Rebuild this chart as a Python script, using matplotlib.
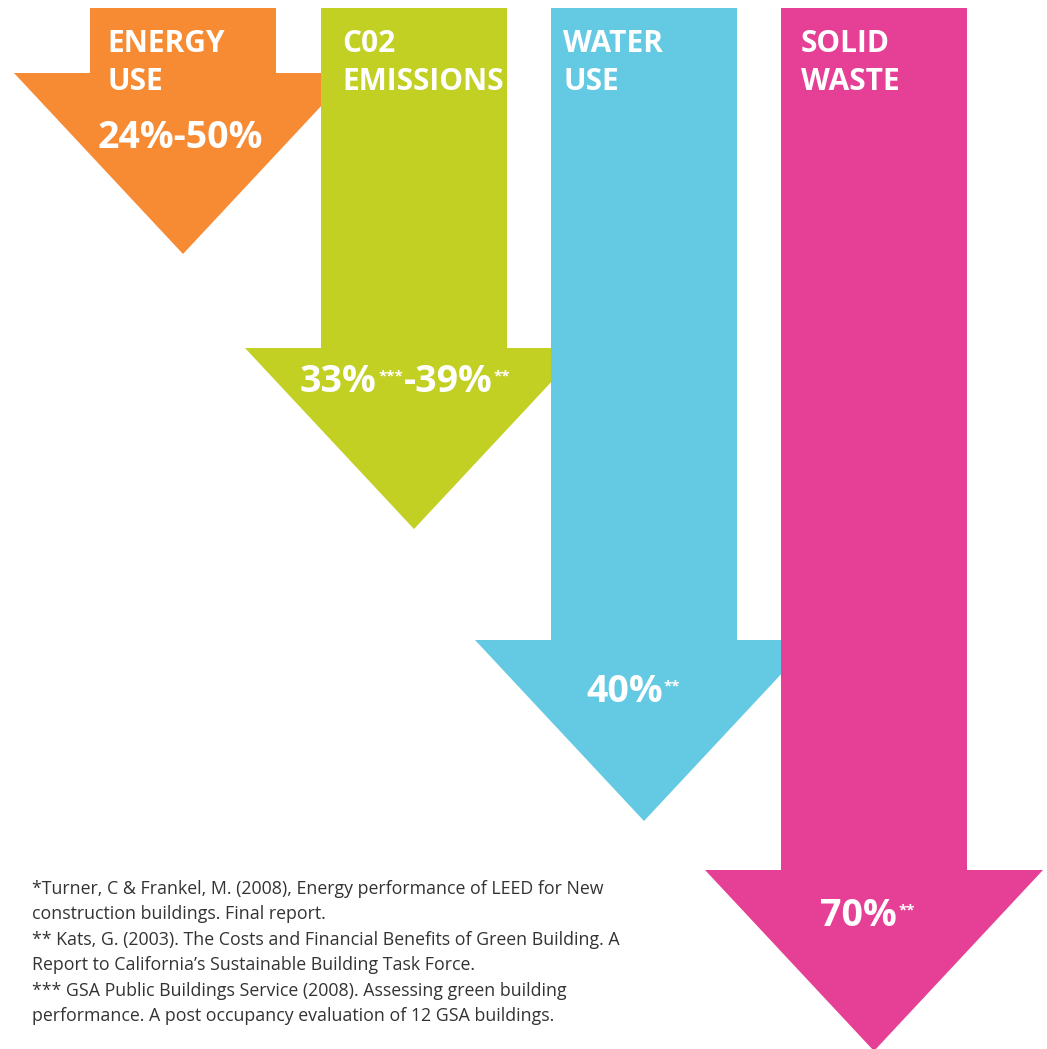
import matplotlib
matplotlib.use("Agg")
from matplotlib import pyplot as plt
from matplotlib.patches import Polygon

# data
titles = ["ENERGY\nUSE", "C02\nEMISSIONS", "WATER\nUSE", "SOLID\nWASTE"]
values = [[("24%-50%", "")], [("33%", "***"), ("-39%", "**")], [("40%", "**")], [("70%", "**")]]
colors = ["#F78B34", "#C2CF23", "#64CAE3", "#E64096"]
footnotes = [
    "*Turner, C & Frankel, M. (2008), Energy performance of LEED for New",
    "construction buildings. Final report.",
    "** Kats, G. (2003). The Costs and Financial Benefits of Green Building. A",
    "Report to California\u2019s Sustainable Building Task Force.",
    "*** GSA Public Buildings Service (2008). Assessing green building",
    "performance. A post occupancy evaluation of 12 GSA buildings.",
]

# layout (pixel space)
centers = [183, 414, 644, 874]
tips = [254, 529, 821, 1051]
title_x = [107, 342, 563, 801]
value_x = [98, 300, 586, 820]
value_y = [148, 392, 702, 926]
top = 8
shaft_half = 93
head_half = 169
head_len = 181

plt.rcParams["font.family"] = ["Open Sans", "DejaVu Sans"]

fig = plt.figure(figsize=(10.47, 10.49), dpi=100)
ax = fig.add_axes([0, 0, 1, 1])
ax.set_xlim(0, 1047)
ax.set_ylim(1049, 0)
ax.axis("off")

for i in range(4):
    cx, tip = centers[i], tips[i]
    hy = tip - head_len
    pts = [(cx - shaft_half, top), (cx + shaft_half, top), (cx + shaft_half, hy),
           (cx + head_half, hy), (cx, tip), (cx - head_half, hy), (cx - shaft_half, hy)]
    ax.add_patch(Polygon(pts, closed=True, color=colors[i], lw=0, zorder=i))

    l1, l2 = titles[i].split("\n")
    ax.text(title_x[i], 52, l1, color="white", fontsize=21.5, fontweight="bold",
            va="baseline", ha="left", zorder=10)
    ax.text(title_x[i], 90, l2, color="white", fontsize=21.5, fontweight="bold",
            va="baseline", ha="left", zorder=10)

    # value text with superscript footnote marks
    first = None
    prev = None
    for main, sup in values[i]:
        if first is None:
            t = ax.text(value_x[i], value_y[i], main, color="white", fontsize=27,
                        fontweight="bold", va="baseline", ha="left", zorder=10)
            first = t
        else:
            t = ax.annotate(main, xy=(1, 0), xycoords=(prev, first), xytext=(0.5, 0),
                            textcoords="offset points", color="white", fontsize=27,
                            fontweight="bold", va="bottom", ha="left", zorder=10)
        prev = t
        if sup:
            s = ax.annotate(sup, xy=(1, 1), xycoords=t, xytext=(1, -5),
                            textcoords="offset points", color="white", fontsize=11,
                            fontweight="bold", va="top", ha="left", zorder=10)
            prev = s

for j, line in enumerate(footnotes):
    ax.text(32, 894 + j * 25.4, line, color="#333333", fontsize=12.8,
            va="baseline", ha="left", zorder=20)

fig.savefig("out.png", dpi=100)
